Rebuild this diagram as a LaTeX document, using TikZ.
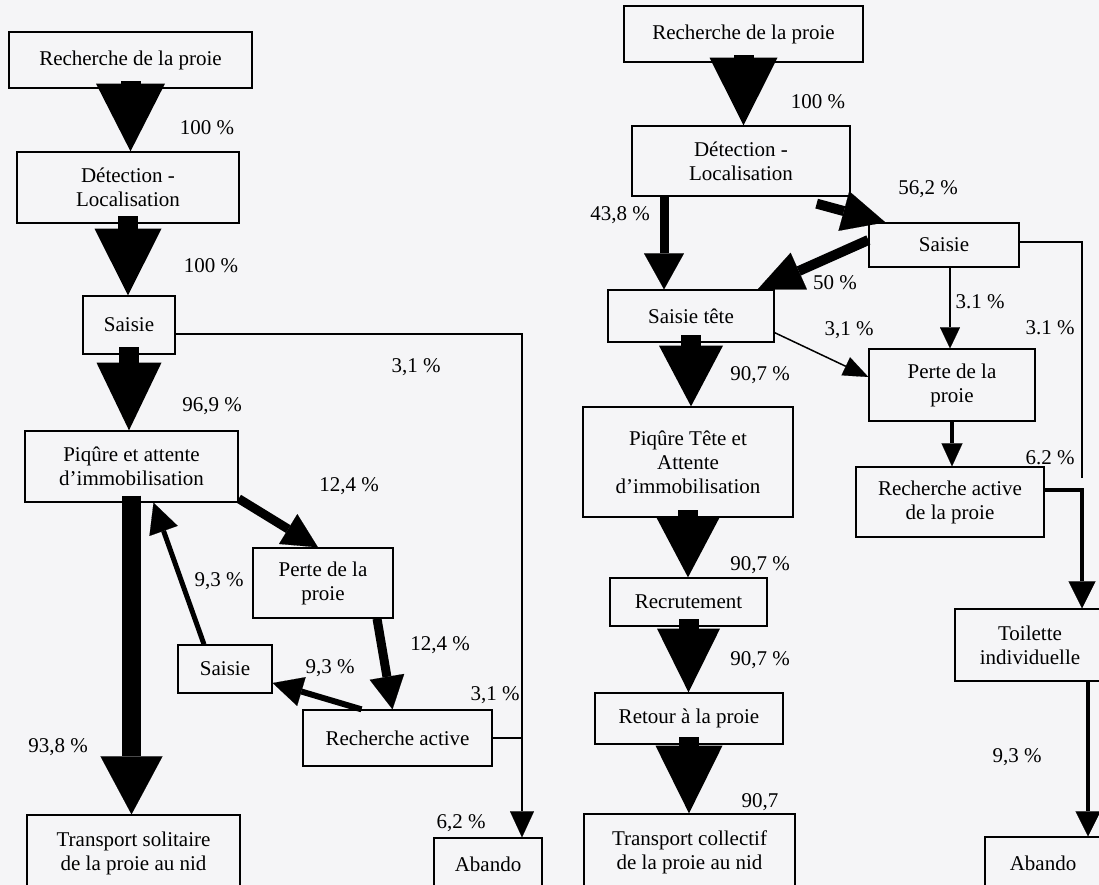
\documentclass[tikz,border=0pt]{standalone}
\usepackage{fontspec}
\setmainfont{Liberation Serif}
\usetikzlibrary{arrows.meta,calc}
\definecolor{bgc}{RGB}{245,245,247}
\newcommand{\blockarr}[4]{%
  \fill ([xshift=-10pt,yshift=8pt]#1.south) rectangle ([xshift=10pt,yshift=#3]#1.south);
  \fill ([xshift=-#4,yshift=#3]#1.south) -- ([xshift=#4,yshift=#3]#1.south) -- (#1.south |- #2.north) -- cycle;}
\begin{document}
\begin{tikzpicture}[x=1pt,y=-1pt,
  font=\fontsize{21}{24}\selectfont,
  box/.style={draw, line width=1.3pt, inner sep=0pt, align=center},
  lbl/.style={inner sep=0pt},
  fat/.style n args={3}{line width=#1, -{Triangle[width=#2 0 0,length=#3 0 0,line width=0.1pt]}},
  ln/.style={line width=1.5pt}]
\useasboundingbox (0,0) rectangle (1099,885);
\fill[bgc] (0,0) rectangle (1099,885);
\clip (0,0) rectangle (1099,885);

% ---------- left diagram ----------
\node[box, minimum width=243pt, minimum height=56pt] (L1) at (130.5,60) {Recherche de la proie};
\node[box, minimum width=222pt, minimum height=71pt] (L2) at (128,187.5) {Détection -\\Localisation};
\node[box, minimum width=92pt, minimum height=58pt] (L3) at (129,325) {Saisie};
\node[box, minimum width=213pt, minimum height=71pt] (L4) at (131.5,466.5) {Piqûre et attente\\d’immobilisation};
\node[box, minimum width=140pt, minimum height=70pt] (L5) at (323,583) {Perte de la\\proie};
\node[box, minimum width=189pt, minimum height=56pt] (L6) at (397.5,738) {Recherche active};
\node[box, minimum width=213pt, minimum height=77pt] (L7) at (133.5,853.5) {Transport solitaire\\de la proie au nid};
\node[box, minimum width=94pt, minimum height=48pt] (L8) at (225,669) {Saisie};
\node[box, minimum width=108pt, minimum height=52pt] (LA) at (488,864) {Abando};

% ---------- right diagram ----------
\node[box, minimum width=239pt, minimum height=56pt] (R1) at (743.5,34) {Recherche de la proie};
\node[box, minimum width=218pt, minimum height=70pt] (R2) at (741,161) {Détection -\\Localisation};
\node[box, minimum width=166pt, minimum height=52pt] (R3) at (691,316) {Saisie tête};
\node[box, minimum width=150pt, minimum height=44pt] (R4) at (944,245) {Saisie};
\node[box, minimum width=166pt, minimum height=72pt] (R5) at (952,385) {Perte de la\\proie};
\node[box, minimum width=188pt, minimum height=70pt] (R6) at (950,502) {Recherche active\\de la proie};
\node[box, minimum width=210pt, minimum height=110pt] (R7) at (688,462) {Piqûre Tête et\\Attente\\d’immobilisation};
\node[box, minimum width=157pt, minimum height=48pt] (R8) at (688.5,602) {Recrutement};
\node[box, minimum width=188pt, minimum height=51pt] (R9) at (689,718.5) {Retour à la proie};
\node[box, minimum width=211pt, minimum height=76pt] (R10) at (689.5,852) {Transport collectif\\de la proie au nid};
\node[box, minimum width=150pt, minimum height=72pt] (R11) at (1030,645) {Toilette\\individuelle};
\node[box, minimum width=116pt, minimum height=52pt] (R12) at (1043,863) {Abando};

% ---------- left connectors ----------
\blockarr{L1}{L2}{5pt}{34.5pt}
\blockarr{L2}{L3}{-5pt}{33.5pt}
\blockarr{L3}{L4}{-8pt}{32.5pt}
\draw[fat={19pt}{62pt}{58pt}] ([yshift=7pt]L4.south) -- (L4.south |- L7.north);
\coordinate (J1) at ($(LA.north |- L6.east)+(34,0)$);
\coordinate (LAin) at ($(LA.north)+(34,0)$);
\draw[ln] ([yshift=-9pt]L3.east) -| (J1);
\draw[fat={2.5pt}{24pt}{26pt}] (L6.east) -- (J1) -- (LAin);
\draw[fat={9pt}{35pt}{35pt}] ([yshift=4pt]L4.south east) -- ([xshift=-5pt]L5.north);
\draw[fat={9pt}{35pt}{33pt}] ([xshift=54pt]L5.south) -- ([xshift=-5pt]L6.north);
\draw[fat={6pt}{30pt}{30pt}] ([xshift=-36pt]L6.north) -- ([yshift=-14pt]L8.east);
\draw[fat={5pt}{30pt}{30pt}] ([xshift=-21pt]L8.north) -- ([xshift=22pt]L4.south);

% ---------- right connectors ----------
\blockarr{R1}{R2}{5pt}{34pt}
\draw[fat={9pt}{40pt}{36pt}] ([xshift=-77pt]R2.south) -- ([xshift=-27pt]R3.north);
\draw[fat={10pt}{41pt}{43pt}] ([xshift=-34pt,yshift=-7pt]R2.south east) -- ([xshift=17pt]R4.north west);
\draw[fat={10pt}{40pt}{45pt}] ([yshift=5pt]R4.west) -- ([xshift=-17pt]R3.north east);
\coordinate (r4s) at ($(R4.south)+(6,0)$);
\draw[fat={1.5pt}{20pt}{21pt}] (r4s) -- (r4s |- R5.north);
\draw[fat={1.5pt}{20pt}{25pt}] ([yshift=10pt]R3.south east) -- ([yshift=8pt]R5.west);
\draw[fat={4pt}{21pt}{23pt}] (R5.south) -- (R5.south |- R6.north);
\coordinate (J2) at ($(R11.north |- R6.east)+(52,-12)$);
\coordinate (E2) at ($(J2)+(0,-12)$);
\draw[ln] ([yshift=3pt]R4.east) -| (E2);
\draw[fat={4pt}{27pt}{27pt}] ([yshift=12pt]R6.east) -- (J2) -- (J2 |- R11.north);
\coordinate (K) at ($(R11.south)+(58,0)$);
\draw[fat={4pt}{25pt}{25pt}] (K) -- (K |- R12.north);
\blockarr{R3}{R7}{-3pt}{32pt}
\blockarr{R7}{R8}{0pt}{31.5pt}
\blockarr{R8}{R9}{-2pt}{31.5pt}
\blockarr{R9}{R10}{-1pt}{33.5pt}

% ---------- labels ----------
\node[lbl] (p1) at (207,128) {100 \%};
\node[lbl] (p2) at (211,266) {100 \%};
\node[lbl] (p3) at (212,406) {96,9 \%};
\node[lbl] (p4) at (416,367) {3,1 \%};
\node[lbl] (p5) at (349,486) {12,4 \%};
\node[lbl] (p6) at (219,581) {9,3 \%};
\node[lbl] (p7) at (440,645) {12,4 \%};
\node[lbl] (p8) at (330,668) {9,3 \%};
\node[lbl] (p9) at (495,695) {3,1 \%};
\node[lbl] (p10) at (58,747) {93,8 \%};
\node[lbl] (p11) at (461,823) {6,2 \%};
\node[lbl] (q1) at (818,102) {100 \%};
\node[lbl] (q2) at (620,215) {43,8 \%};
\node[lbl] (q3) at (928,189) {56,2 \%};
\node[lbl] (q4) at (835,283) {50 \%};
\node[lbl] (q5) at (980,302) {3.1 \%};
\node[lbl] (q6) at (849,330) {3,1 \%};
\node[lbl] (q7) at (1050,328) {3.1 \%};
\node[lbl] (q8) at (760,375) {90,7 \%};
\node[lbl] (q9) at (1050,458) {6.2 \%};
\node[lbl] (q10) at (760,565) {90,7 \%};
\node[lbl] (q11) at (760,660) {90,7 \%};
\node[lbl] (q12) at (760,802) {90,7};
\node[lbl] (q13) at (1017,757) {9,3 \%};
\end{tikzpicture}
\end{document}
